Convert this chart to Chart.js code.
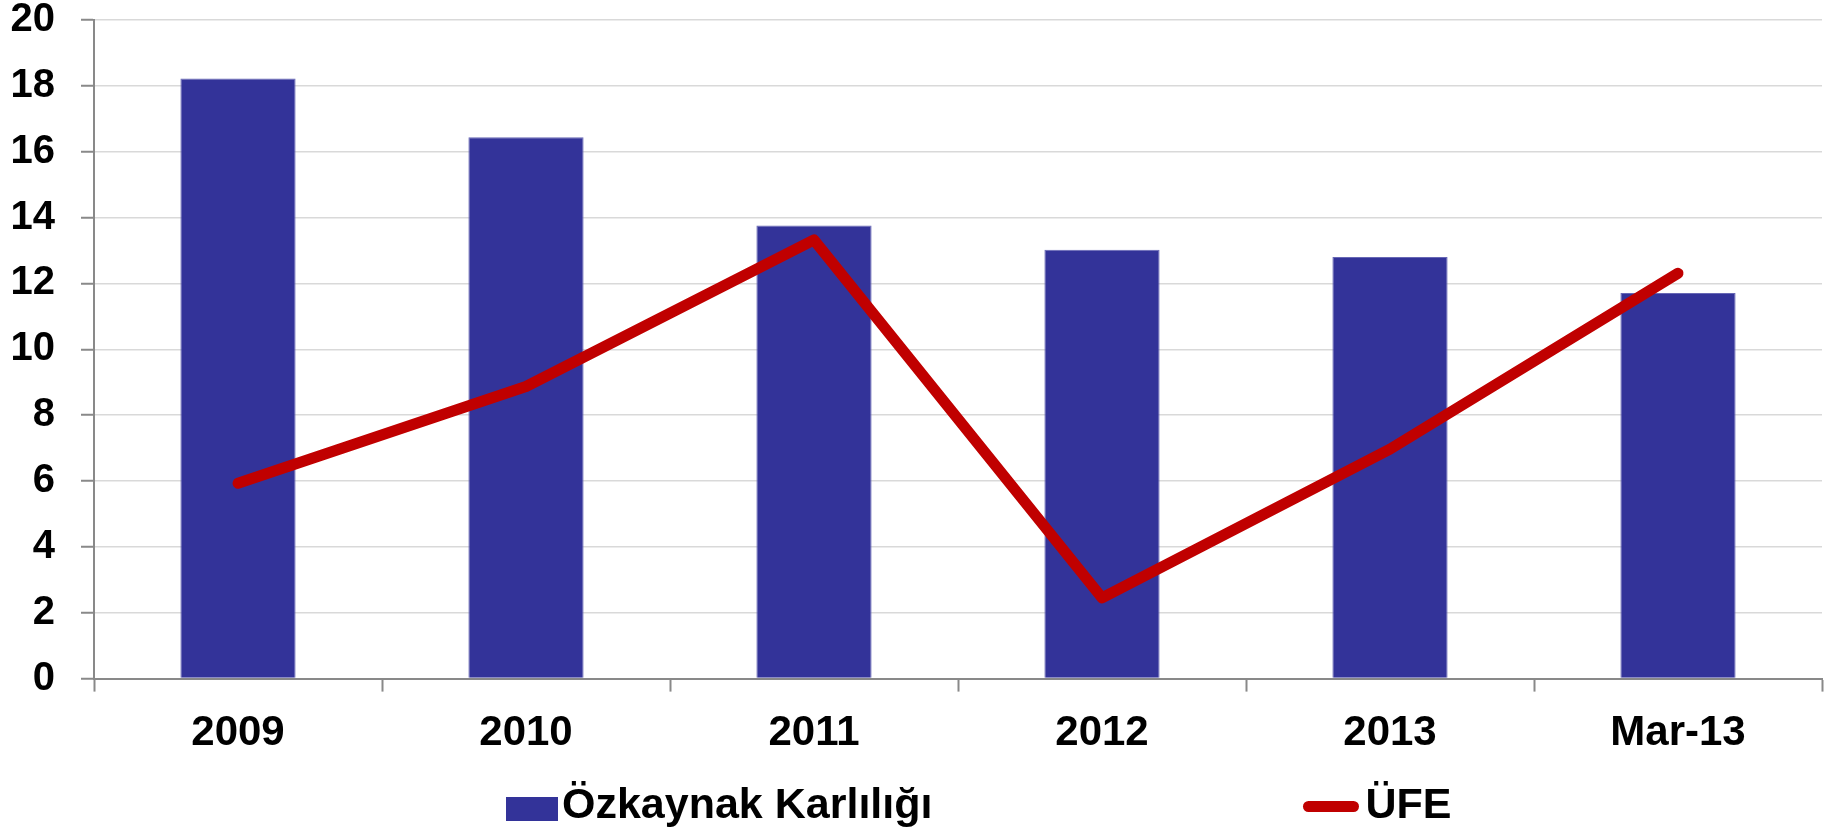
<!DOCTYPE html>
<html>
<head>
<meta charset="utf-8">
<script src="https://cdn.jsdelivr.net/npm/chart.js@4/dist/chart.umd.min.js"></script>
<style>
    body { margin: 0; background: #fff; }
    #wrap { position: relative; width: 1833px; height: 833px; }
    #chartBox { position: absolute; left: 0; top: 0; width: 1833px; height: 783px; }
    #legend {
        position: absolute; left: 506px; top: 782px;
        display: flex; align-items: center; gap: 371px;
        font: bold 43px 'Liberation Sans', Arial, sans-serif; line-height: 43px; color: #000;
    }
    .leg-item { display: flex; align-items: center; }
    .leg-bar { width: 52px; height: 24px; background: #333399; margin-right: 4px; margin-top: 10px; }
    .leg-line { width: 56px; height: 11px; border-radius: 6px; background: #c00000; margin-right: 6px; margin-top: 6px; }
</style>
</head>
<body>
<div id="wrap">
    <div id="chartBox"><canvas id="chart"></canvas></div>
    <div id="legend"></div>
</div>
<script>
// 数据
const categories = ['2009', '2010', '2011', '2012', '2013', 'Mar-13'];
const ozkaynakValues = [18.22, 16.44, 13.76, 13.02, 12.80, 11.71];
const ufeValues = [5.93, 8.87, 13.32, 2.45, 6.97, 12.31];
const yTicks = [0, 2, 4, 6, 8, 10, 12, 14, 16, 18, 20];

const barLabel = 'Özkaynak Karlılığı';
const lineLabel = 'ÜFE';
const barColor = '#333399';
const lineColor = '#c00000';

const fontFamily = "'Liberation Sans', Arial, sans-serif";
const xTickFont = { family: fontFamily, size: 42, weight: 'bold' };
const yTickFont = { family: fontFamily, size: 40, weight: 'bold' };

// 图例（HTML）
function renderLegend() {
    const legend = document.getElementById('legend');
    legend.innerHTML = `
        <div class="leg-item"><span class="leg-bar"></span><span>${barLabel}</span></div>
        <div class="leg-item"><span class="leg-line"></span><span>${lineLabel}</span></div>
    `;
}

function createChart() {
    const ctx = document.getElementById('chart').getContext('2d');
    new Chart(ctx, {
        data: {
            labels: categories,
            datasets: [
                {
                    type: 'line',
                    label: lineLabel,
                    data: ufeValues,
                    borderColor: lineColor,
                    borderWidth: 11,
                    borderCapStyle: 'round',
                    borderJoinStyle: 'round',
                    pointRadius: 0,
                    tension: 0,
                    order: 0
                },
                {
                    type: 'bar',
                    label: barLabel,
                    data: ozkaynakValues,
                    backgroundColor: barColor,
                    borderColor: '#6767b5',
                    borderWidth: 1,
                    barPercentage: 0.4,
                    categoryPercentage: 1,
                    order: 1
                }
            ]
        },
        options: {
            responsive: true,
            maintainAspectRatio: false,
            animation: false,
            layout: { padding: { left: 0, right: 11, top: 20, bottom: 7 } },
            plugins: {
                legend: { display: false },
                tooltip: { enabled: false }
            },
            scales: {
                x: {
                    offset: true,
                    grid: {
                        offset: true,
                        drawOnChartArea: false,
                        tickLength: 13,
                        tickColor: '#898989',
                        tickWidth: 2
                    },
                    border: { color: '#898989', width: 2 },
                    ticks: { color: '#000', font: xTickFont, padding: 17, maxRotation: 0 }
                },
                y: {
                    min: 0,
                    max: 20,
                    afterBuildTicks: axis => { axis.ticks = yTicks.map(v => ({ value: v })); },
                    afterFit: axis => {
                        axis.width = 94;
                        axis.paddingTop = 0;
                        axis.paddingBottom = 0;
                    },
                    grid: {
                        color: '#d9d9d9',
                        lineWidth: 1.5,
                        tickLength: 13,
                        tickColor: '#898989',
                        tickWidth: 2
                    },
                    border: { color: '#898989', width: 2 },
                    ticks: { color: '#000', font: yTickFont, padding: 26 }
                }
            }
        }
    });
}

document.addEventListener('DOMContentLoaded', () => {
    renderLegend();
    createChart();
});
</script>
</body>
</html>
